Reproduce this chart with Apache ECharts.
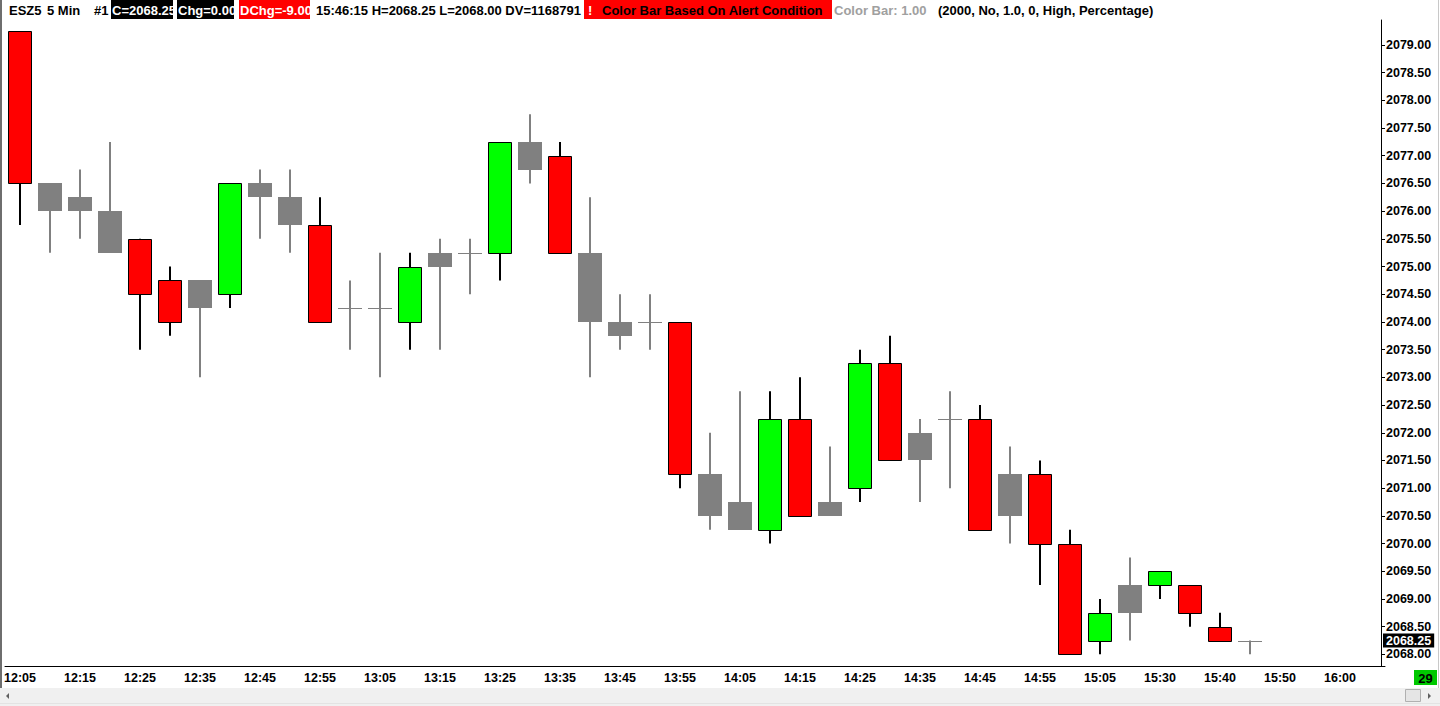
<!DOCTYPE html>
<html><head><meta charset="utf-8">
<script src="https://cdn.jsdelivr.net/npm/echarts@6/dist/echarts.min.js"></script>
<style>html,body{margin:0;padding:0;background:#fff;overflow:hidden}#c{width:1440px;height:706px}</style>
</head><body><div id="c"></div>
<script>
// ---- data ----
const times = ['12:05','12:10','12:15','12:20','12:25','12:30','12:35','12:40','12:45','12:50','12:55',
  '13:00','13:05','13:10','13:15','13:20','13:25','13:30','13:35','13:40','13:45','13:50','13:55',
  '14:00','14:05','14:10','14:15','14:20','14:25','14:30','14:35','14:40','14:45','14:50','14:55',
  '15:00','15:05','15:10','15:30','15:35','15:40','15:45','15:50','15:55','16:00','16:05'];
const opens  = [2079.25,2076.5,2076,2076,2075.5,2074.75,2074.25,2074.5,2076.5,2076.25,2075.75,2074.25,2074.25,2074,2075,2075.25,2075.25,2077.25,2077,2075.25,2074,2074,2074,2071.25,2070.75,2070.25,2072.25,2070.5,2071,2073.25,2071.5,2072.25,2072.25,2070.5,2071.25,2070,2068.25,2068.75,2069.25,2069.25,2068.5,2068.25];
const closes = [2076.5,2076,2076.25,2075.25,2074.5,2074,2074.75,2076.5,2076.25,2075.75,2074,2074.25,2074.25,2075,2075.25,2075.25,2077.25,2076.75,2075.25,2074,2073.75,2074,2071.25,2070.5,2070.25,2072.25,2070.5,2070.75,2073.25,2071.5,2072,2072.25,2070.25,2071.25,2070,2068,2068.75,2069.25,2069.5,2068.75,2068.25,2068.25];
const lows   = [2075.75,2075.25,2075.5,2075.25,2073.5,2073.75,2073,2074.25,2075.5,2075.25,2074,2073.5,2073,2073.5,2073.5,2074.5,2074.75,2076.5,2075.25,2073,2073.5,2073.5,2071,2070.25,2070.25,2070,2070.5,2070.5,2070.75,2071.5,2070.75,2071,2070.25,2070,2069.25,2068,2068,2068.25,2069,2068.5,2068.25,2068];
const highs  = [2079.25,2076.5,2076.75,2077.25,2075.5,2075,2074.75,2076.5,2076.75,2076.75,2076.25,2074.75,2075.25,2075.25,2075.5,2075.5,2077.25,2077.75,2077.25,2076.25,2074.5,2074.5,2074,2072,2072.75,2072.75,2073,2071.75,2073.5,2073.75,2072.25,2072.75,2072.5,2071.75,2071.5,2070.25,2069,2069.75,2069.5,2069.25,2068.75,2068.25];
// bar colour state from the alert condition: R = red, G = green, N = neutral (grey)
const barState = ['R','N','N','N','R','R','N','G','N','N','R','N','N','G','N','N','G','N','R','N','N','N','R','N','N','G','R','N','G','R','N','N','R','N','R','R','G','N','G','R','R','N'];
const yTicks = [2068.00,2068.50,2069.00,2069.50,2070.00,2070.50,2071.00,2071.50,2072.00,2072.50,2073.00,2073.50,
  2074.00,2074.50,2075.00,2075.50,2076.00,2076.50,2077.00,2077.50,2078.00,2078.50,2079.00];
const lastClose = closes[closes.length - 1];

const FONT = '"Liberation Sans", Arial, sans-serif';
const colors = {R:{fill:'#ff0000',stroke:'#000000',wick:'#000000'},G:{fill:'#00ff00',stroke:'#000000',wick:'#000000'},N:{fill:'#808080',stroke:null,wick:'#808080'}};

const chart = echarts.init(document.getElementById('c'), null, {renderer:'svg'});

function hText(x, text, fill, extra){
  return Object.assign({type:'text', x:x, y:10, z:100, silent:true,
    style:{text:text, fill:fill||'#000', font:'bold 13px ' + FONT, textVerticalAlign:'middle'}}, extra||{});
}
function hRect(x, w, fill){
  return {type:'rect', z:99, silent:true, shape:{x:x, y:0, width:w, height:19}, style:{fill:fill}};
}

const option = {
  animation:false,
  backgroundColor:'#ffffff',
  grid:{left:5, right:55, top:20, bottom:40},
  xAxis:{
    type:'category', data:times, boundaryGap:true,
    axisLine:{lineStyle:{color:'#000', width:1}},
    axisTick:{alignWithLabel:true, interval:1, length:4, lineStyle:{color:'#000'}},
    axisLabel:{interval:1, color:'#000', fontWeight:'bold', fontSize:12.5, fontFamily:FONT, margin:5},
    splitLine:{show:false}
  },
  yAxis:[{
    type:'value', position:'right', min:2067.79, max:2079.45, offset:-4,
    axisLine:{show:true, lineStyle:{color:'#000', width:1}},
    axisTick:{show:true, length:4, customValues:yTicks, lineStyle:{color:'#000'}},
    axisLabel:{customValues:yTicks, color:'#000', fontWeight:'bold', fontSize:12.5, fontFamily:FONT, margin:5,
      formatter:function(v){return Number(v).toFixed(2);}},
    splitLine:{show:false}
  }, {
    // last-price marker on the price scale
    type:'value', position:'right', min:2067.79, max:2079.45, offset:-4, z:20,
    axisLine:{show:false}, axisTick:{show:false}, splitLine:{show:false},
    axisLabel:{customValues:[lastClose], color:'#fff', backgroundColor:'#000', fontWeight:'bold', fontSize:12.5,
      fontFamily:FONT, margin:2, padding:[1,3,0,3], lineHeight:13,
      formatter:function(v){return Number(v).toFixed(2);}}
  }],
  series:[{
    type:'custom',
    data:opens.map(function(o,i){return [i, o, closes[i], lows[i], highs[i]];}),
    encode:{x:0, y:[1,2,3,4]},
    clip:false,
    renderItem:function(params, api){
      const i = api.value(0);
      const st = colors[barState[params.dataIndex]];
      const pO = api.coord([i, api.value(1)]);
      const yC = api.coord([i, api.value(2)])[1];
      const yL = api.coord([i, api.value(3)])[1];
      const yH = api.coord([i, api.value(4)])[1];
      const x = Math.round(pO[0]);
      const bw = Math.round(api.size([1,0])[0] * 0.8);
      const top = Math.min(pO[1], yC), bot = Math.max(pO[1], yC);
      const ch = [];
      ch.push({type:'line', shape:{x1:x, y1:yH, x2:x, y2:yL}, style:{stroke:st.wick, lineWidth:2}});
      if (bot - top < 0.5) {
        ch.push({type:'line', shape:{x1:x - bw/2, y1:Math.round(top)+0.5, x2:x + bw/2, y2:Math.round(top)+0.5}, style:{stroke:st.wick, lineWidth:1}});
      } else if (st.stroke) {
        ch.push({type:'rect', shape:{x:x - bw/2 + 0.5, y:Math.round(top)+0.5, width:bw - 1, height:Math.round(bot)-Math.round(top)}, style:{fill:st.fill, stroke:st.stroke, lineWidth:1}});
      } else {
        ch.push({type:'rect', shape:{x:x - bw/2, y:Math.round(top), width:bw, height:Math.round(bot)-Math.round(top)}, style:{fill:st.fill}});
      }
      return {type:'group', children:ch};
    }
  }],
  graphic:[
    // window frame / scrollbar
    {type:'line', z:90, silent:true, shape:{x1:1, y1:0, x2:1, y2:688}, style:{stroke:'#6e6e6e', lineWidth:2}},
    {type:'line', z:90, silent:true, shape:{x1:1438.5, y1:0, x2:1438.5, y2:688}, style:{stroke:'#c8c8c8', lineWidth:1}},
    {type:'rect', z:90, silent:true, shape:{x:0, y:688, width:1440, height:18}, style:{fill:'#f0f0f0'}},
    {type:'line', z:91, silent:true, shape:{x1:0, y1:703.5, x2:1440, y2:703.5}, style:{stroke:'#e3e3e3', lineWidth:1}},
    {type:'polygon', z:91, silent:true, shape:{points:[[9,693],[9,699],[6,696]]}, style:{fill:'#606060'}},
    {type:'polygon', z:91, silent:true, shape:{points:[[1428,693],[1428,699],[1431,696]]}, style:{fill:'#606060'}},
    {type:'rect', z:91, silent:true, shape:{x:1405.5, y:689.5, width:15, height:12}, style:{fill:'#e5e5e5', stroke:'#b0b0b0', lineWidth:1}},
    {type:'rect', z:91, silent:true, shape:{x:1414, y:670, width:23, height:15}, style:{fill:'#00c800'}},
    {type:'text', z:92, silent:true, x:1425.5, y:678, style:{text:'29', fill:'#000', font:'bold 13px ' + FONT, textAlign:'center', textVerticalAlign:'middle'}},
    // header
    hText(9, 'ESZ5'),
    hText(47, '5 Min'),
    hText(94, '#1'),
    hRect(111, 62, '#000000'), hText(112, 'C=2068.25', '#ffffff'),
    hRect(177, 57, '#000000'), hText(178, 'Chg=0.00', '#ffffff'),
    hRect(239, 71, '#ff0000'), hText(240, 'DChg=-9.00', '#ffffff'),
    hText(316, '15:46:15 H=2068.25 L=2068.00 DV=1168791'),
    hRect(584, 248, '#ff0000'), hText(588, '!', '#ffffff'), hText(602, 'Color Bar Based On Alert Condition', '#000000'),
    hText(834, 'Color Bar: 1.00', '#a0a0a0'),
    hText(938, '(2000, No, 1.0, 0, High, Percentage)')
  ]
};
chart.setOption(option);
</script>
</body></html>
